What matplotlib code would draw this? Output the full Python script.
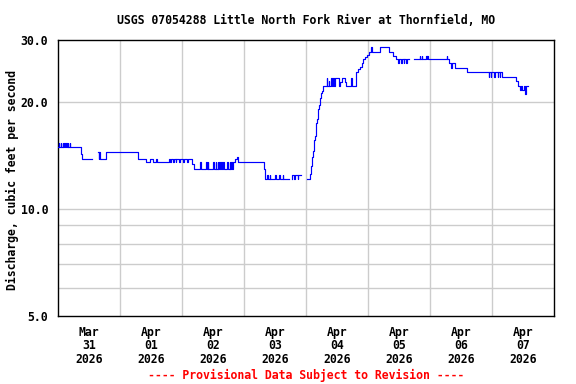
import numpy as np
import matplotlib
matplotlib.use('Agg')
from matplotlib import pyplot as plt

nan = np.nan

# hours since Mar 31 2026 00:00, 15-minute gage readings (step changes only)
hours = [0, 0.25, 0.5, 1.0, 1.25, 1.75, 2.0, 2.5, 2.75, 3.25, 3.5, 3.75, 4.0, 4.5, 4.75,
         8.75, 9.0, 9.25, 13.0, 14.25, 14.5, 15.5, 15.75, 16.0, 16.25, 18.5,
         31.0, 34.0, 35.75, 36.75, 37.75, 38.25, 43.0, 43.5, 43.75, 44.5, 44.75, 45.5, 45.75,
         47.0, 47.25, 48.5, 48.75, 50.0, 50.25, 52.0, 52.5,
         55.0, 55.25, 57.25, 57.5, 58.0, 58.25, 60.0, 60.25, 61.0, 61.25, 61.75, 62.0,
         62.5, 62.75, 63.25, 63.5, 64.0, 64.25, 65.5, 65.75, 66.5, 66.75, 67.0, 67.25,
         67.75, 68.5, 69.25, 69.75,
         79.75, 80.0, 80.25, 81.0, 81.25, 82.0, 82.25, 84.0, 84.25, 85.5, 85.75, 87.0, 87.25,
         89.25, 90.5, 90.75, 91.5, 91.75, 92.75, 93.0, 94.25, 96.25,
         97.5, 98.0, 98.5, 98.75, 99.0, 99.25, 99.5, 99.75, 100.0, 100.25, 100.5, 100.75,
         101.0, 101.25, 101.5, 101.75, 102.0, 102.25, 102.5, 102.75,
         104.0, 104.25, 104.75, 105.0, 105.75, 106.0, 106.5, 106.75, 107.25, 108.75,
         109.25, 110.0, 111.0, 111.5, 113.25, 113.75, 115.5,
         116.0, 116.75, 117.5, 118.0, 118.75, 119.5, 120.25, 121.25, 121.5, 124.5,
         128.25, 129.5, 131.0, 131.75, 132.0, 132.75, 133.0, 133.75, 134.0, 134.75, 135.0,
         135.75, 138.0, 140.0, 140.25, 140.75, 141.0, 142.5, 142.75, 143.0, 143.25,
         150.5, 150.75, 151.5, 152.25, 152.5, 153.5, 154.5, 158.25,
         166.75, 167.0, 167.5, 167.75, 168.75, 169.25, 170.25, 170.5, 171.0, 171.25, 172.0,
         177.25, 178.0, 179.0, 179.25, 179.75, 180.25, 180.75, 181.25, 181.75]
flow = [15.0, 15.4, 15.0, 15.4, 15.0, 15.4, 15.0, 15.4, 15.0, 15.4, 15.0, 15.4, 15.0, 15.4, 15.0,
        14.6, 14.3, 13.9, nan, 13.9, nan, 14.5, 13.9, 14.5, 13.9, 14.5,
        13.9, 13.6, 13.9, 13.6, 13.9, 13.6, 13.9, 13.6, 13.9, 13.6, 13.9, 13.6, 13.9,
        13.6, 13.9, 13.6, 13.9, 13.6, 13.9, 13.4, 13.0,
        13.6, 13.0, 13.6, 13.0, 13.6, 13.0, 13.6, 13.0, 13.6, 13.0, 13.6, 13.0,
        13.6, 13.0, 13.6, 13.0, 13.6, 13.0, 13.6, 13.0, 13.6, 13.0, 13.6, 13.0,
        13.6, 13.9, 14.0, 13.6,
        13.0, 12.5, 12.2, 12.5, 12.2, 12.5, 12.2, 12.5, 12.2, 12.5, 12.2, 12.5, 12.2,
        nan, 12.2, 12.5, 12.2, 12.5, 12.2, 12.5, nan, 12.2,
        12.6, 13.2, 14.0, 14.6, 15.3, 15.7, 16.1, 16.8, 17.5, 18.0, 18.5, 19.2,
        19.7, 20.1, 20.6, 21.0, 21.3, 21.5, 21.9, 22.2,
        23.5, 22.2, 23.0, 22.2, 23.5, 22.2, 23.5, 22.2, 23.5, 22.2,
        22.9, 23.5, 22.9, 22.2, 23.5, 22.2, 24.3,
        24.8, 25.2, 25.8, 26.5, 26.9, 27.3, 27.8, 28.6, 27.8, 28.7,
        27.8, 27.0, 26.5, 25.8, 26.5, 25.8, 26.5, 25.8, 26.5, 25.8, 26.5,
        nan, 26.5, 27.0, 26.5, 27.0, 26.5, 27.0, 26.5, 27.0, 26.5,
        27.0, 26.5, 25.8, 25.0, 25.8, 25.0, 25.0, 24.3,
        23.6, 24.3, 23.6, 24.3, 23.6, 24.3, 23.6, 24.3, 23.6, 24.3, 23.6,
        23.0, 22.3, 21.7, 22.3, 21.7, 22.3, 21.1, 22.3, 22.3]

day_labels = ['Mar\n31\n2026', 'Apr\n01\n2026', 'Apr\n02\n2026', 'Apr\n03\n2026',
              'Apr\n04\n2026', 'Apr\n05\n2026', 'Apr\n06\n2026', 'Apr\n07\n2026']
y_ticks = [5, 10, 20, 30]
y_labels = ['5.0', '10.0', '20.0', '30.0']
y_grid = [6, 7, 8, 9, 10, 20]

font = 'DejaVu Sans Mono'

fig = plt.figure(figsize=(5.76, 3.84), dpi=100)
ax = fig.add_axes([58 / 576, 1 - 316 / 384, 496 / 576, 276 / 384])

ax.set_yscale('log')
ax.set_ylim(5, 30)
ax.set_xlim(0, 192)

# сетка: полночь по x, отдельные уровни по y
for h in range(24, 192, 24):
    ax.axvline(h, color='#cccccc', lw=1.0, zorder=1)
for v in y_grid:
    ax.axhline(v, color='#cccccc', lw=1.0, zorder=1)

ax.plot(hours, flow, color='#0000ff', lw=0.85, drawstyle='steps-post', zorder=3)

ax.set_yticks(y_ticks)
ax.set_yticklabels(y_labels)
ax.yaxis.set_minor_locator(matplotlib.ticker.NullLocator())
ax.set_xticks([12 + 24 * i for i in range(8)])
ax.set_xticklabels(day_labels, linespacing=1.05)
ax.tick_params(length=0, labelsize=8.3)
ax.tick_params(axis='y', pad=7)
ax.tick_params(axis='x', pad=7)
for lab in ax.get_xticklabels() + ax.get_yticklabels():
    lab.set_fontfamily(font)
    lab.set_fontweight('bold')
for s in ax.spines.values():
    s.set_linewidth(1.0)
    s.set_color('black')

fig.text(306 / 576, 1 - 20 / 384, 'USGS 07054288 Little North Fork River at Thornfield, MO',
         ha='center', va='center', fontsize=8.3, fontweight='bold', family=font)
fig.text(12 / 576, 1 - 180 / 384, 'Discharge, cubic feet per second', rotation=90,
         ha='center', va='center', fontsize=8.3, fontweight='bold', family=font)
fig.text(306 / 576, 1 - 375 / 384, '---- Provisional Data Subject to Revision ----',
         ha='center', va='center', fontsize=8.3, fontweight='bold', family=font, color='red')

fig.savefig('out.png', dpi=100)
plt.close()
